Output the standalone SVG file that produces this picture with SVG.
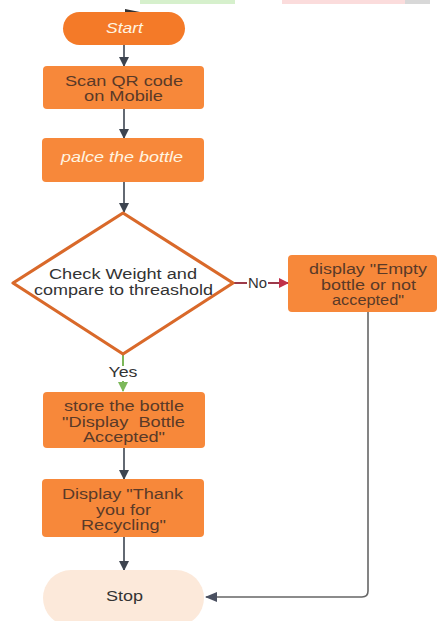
<svg xmlns="http://www.w3.org/2000/svg" width="438" height="621" viewBox="0 0 438 621">
<style>
.box{fill:#f7883a}
.t{font-family:"Liberation Sans",Arial,sans-serif;font-size:14px;text-anchor:middle;fill:#5a3a28}
.w{fill:#fff4e0;font-style:italic}
.d{fill:#333}
.ln{stroke:#3d4450;stroke-width:1.6;fill:none}
</style>
<defs>
<marker id="ah" markerWidth="10" markerHeight="10" refX="9" refY="5" orient="auto" markerUnits="userSpaceOnUse"><path d="M0,0 L10,5 L0,10 z" fill="#3d4450"/></marker>
<marker id="ahg" markerWidth="10" markerHeight="10" refX="9" refY="5" orient="auto" markerUnits="userSpaceOnUse"><path d="M0,0 L10,5 L0,10 z" fill="#7cb85a"/></marker>
<marker id="ahr" markerWidth="10" markerHeight="10" refX="9" refY="5" orient="auto" markerUnits="userSpaceOnUse"><path d="M0,0 L10,5 L0,10 z" fill="#c0304a"/></marker>
<marker id="ahs" markerWidth="12" markerHeight="10" refX="11" refY="5" orient="auto" markerUnits="userSpaceOnUse"><path d="M0,0 L12,5 L0,10 z" fill="#4a5060"/></marker>
</defs>
<rect width="438" height="621" fill="#fff"/>
<g id="artifacts">
<rect x="140" y="0" width="95" height="4" fill="#d6f0cc"/>
<rect x="282" y="0" width="128" height="4" fill="#fbdcdc"/>
<rect x="405" y="0" width="25" height="4" fill="#d8d8d8"/>
<path d="M125,9 L140,12 L125,15 z" fill="#333"/>
</g>
<g id="connectors">
<line class="ln" x1="124" y1="44" x2="124" y2="66" marker-end="url(#ah)"/>
<line class="ln" x1="124" y1="109" x2="124" y2="138" marker-end="url(#ah)"/>
<line class="ln" x1="124" y1="182" x2="124" y2="212" marker-end="url(#ah)"/>
<line x1="123" y1="355" x2="123" y2="366" stroke="#7cb85a" stroke-width="2"/>
<line x1="123" y1="381" x2="123" y2="391" stroke="#7cb85a" stroke-width="2" marker-end="url(#ahg)"/>
<text class="t d" x="123" y="377" textLength="29" lengthAdjust="spacingAndGlyphs">Yes</text>
<line x1="234" y1="283" x2="247" y2="283" stroke="#9c3a4a" stroke-width="2"/>
<line x1="268" y1="283" x2="288" y2="283" stroke="#9c3a4a" stroke-width="2" marker-end="url(#ahr)"/>
<text class="t d" x="257.5" y="288" textLength="19" lengthAdjust="spacingAndGlyphs">No</text>
<line class="ln" x1="124" y1="448" x2="124" y2="479" marker-end="url(#ah)"/>
<line class="ln" x1="124" y1="537" x2="124" y2="570" marker-end="url(#ah)"/>
<path d="M368,312 L368,591 Q368,597 362,597 L206,597" stroke="#666" stroke-width="1.6" fill="none" marker-end="url(#ahs)"/>
</g>
<g id="start">
<rect x="63" y="12" width="122" height="33" rx="16.5" fill="#f47a28"/>
<text class="t w" x="124.5" y="33" textLength="37" lengthAdjust="spacingAndGlyphs">Start</text>
</g>
<g id="scan">
<rect class="box" x="43" y="66" width="161" height="43" rx="4"/>
<text class="t" x="124" y="86" textLength="118" lengthAdjust="spacingAndGlyphs">Scan QR code</text>
<text class="t" x="123.5" y="101" textLength="79" lengthAdjust="spacingAndGlyphs">on Mobile</text>
</g>
<g id="place">
<rect class="box" x="42" y="138" width="162" height="44" rx="4"/>
<text class="t w" x="122" y="162" textLength="122" lengthAdjust="spacingAndGlyphs">palce the bottle</text>
</g>
<g id="check">
<path d="M123,213 L233,283 L123,354 L13,283 z" fill="#fff" stroke="#d9692a" stroke-width="3.2" stroke-linejoin="round"/>
<text class="t d" x="123" y="279" textLength="148" lengthAdjust="spacingAndGlyphs">Check Weight and</text>
<text class="t d" x="123.5" y="295" textLength="179" lengthAdjust="spacingAndGlyphs">compare to threashold</text>
</g>
<g id="reject">
<rect class="box" x="288" y="255" width="149" height="57" rx="4"/>
<text class="t" x="368" y="274" textLength="118" lengthAdjust="spacingAndGlyphs">display "Empty</text>
<text class="t" x="368.5" y="290" textLength="95" lengthAdjust="spacingAndGlyphs">bottle or not</text>
<text class="t" x="368" y="305" textLength="72" lengthAdjust="spacingAndGlyphs">accepted"</text>
</g>
<g id="store">
<rect class="box" x="43" y="392" width="162" height="56" rx="4"/>
<text class="t" x="124" y="411" textLength="120" lengthAdjust="spacingAndGlyphs">store the bottle</text>
<text class="t" x="123.5" y="427" textLength="123" lengthAdjust="spacingAndGlyphs">"Display&#160; Bottle</text>
<text class="t" x="124" y="442" textLength="82" lengthAdjust="spacingAndGlyphs">Accepted"</text>
</g>
<g id="thanks">
<rect class="box" x="42" y="479" width="162" height="58" rx="4"/>
<text class="t" x="122.5" y="499" textLength="121" lengthAdjust="spacingAndGlyphs">Display "Thank</text>
<text class="t" x="123.5" y="515" textLength="55" lengthAdjust="spacingAndGlyphs">you for</text>
<text class="t" x="123.5" y="530" textLength="85" lengthAdjust="spacingAndGlyphs">Recycling"</text>
</g>
<g id="stop">
<rect x="43" y="570" width="161" height="56" rx="28" fill="#fce9da"/>
<text class="t d" x="124.5" y="601" textLength="37" lengthAdjust="spacingAndGlyphs">Stop</text>
</g>
</svg>
